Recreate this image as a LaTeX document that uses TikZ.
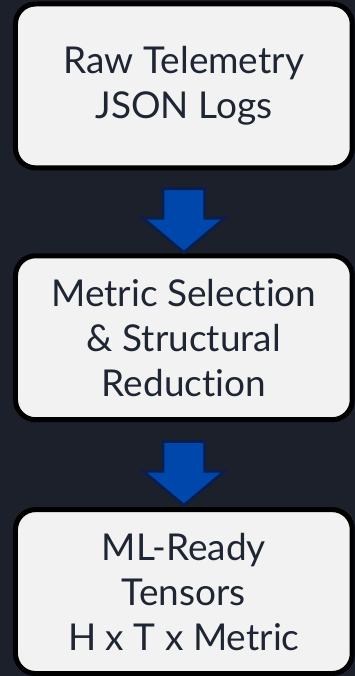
\documentclass[tikz,border=0pt]{standalone}
\usepackage{fontspec}
\setmainfont{Lato}[Ligatures=NoCommon]
\usepackage{tikz}
\usetikzlibrary{shapes.arrows,calc}
\definecolor{tm-bg}{HTML}{1C202B}
\definecolor{tm-box}{HTML}{F2F2F2}
\definecolor{tm-text}{HTML}{1F2633}
\definecolor{tm-arrow}{HTML}{0047AB}
\definecolor{tm-arrowline}{HTML}{0B1E4B}

\begin{document}
\begin{tikzpicture}[x=1pt,y=1pt,
    stagebox/.style={draw=black,line width=5pt,fill=tm-box,rounded corners=20pt,
      minimum width=337pt,minimum height=164pt,align=center,text=tm-text,
      font=\fontsize{37}{45}\selectfont},
    downarrow/.style={single arrow,draw=tm-arrowline,line width=3pt,fill=tm-arrow,
      rotate=-90,minimum height=64pt,inner xsep=0pt,inner ysep=19.5pt,
      single arrow head extend=20pt,single arrow tip angle=100}]
      \fill[tm-bg] (0,0) rectangle (355,-676);
      \node[stagebox] (raw) at (184,-86) {Raw Telemetry\\JSON Logs};
      \node[stagebox] (sel) at (184,-338) {Metric Selection\\\& Structural\\Reduction};
      \node[stagebox] (ml) at (184,-592) {ML-Ready\\Tensors\\H x T x Metric};
      \node[downarrow] (a1) at ($(raw.south)!0.5!(sel.north)$) {};
      \node[downarrow] (a2) at ($(sel.south)!0.5!(ml.north)$) {};
    \end{tikzpicture}
\end{document}
